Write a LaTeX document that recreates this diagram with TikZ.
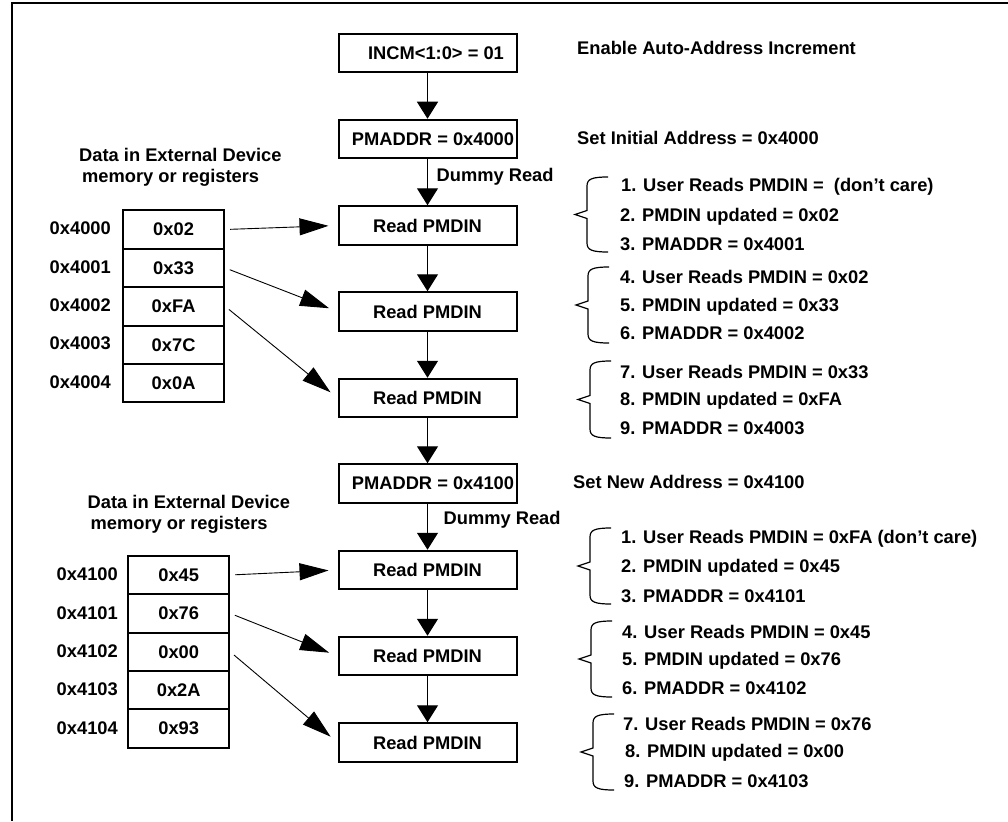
\documentclass[tikz,border=0pt]{standalone}
\usepackage{fontspec}
\setmainfont{Liberation Sans}
\usetikzlibrary{arrows.meta}

\tikzset{
  regbox/.style={draw, line width=2pt, minimum width=178pt, minimum height=38.5pt, inner sep=0pt},
  cell/.style={draw, line width=2pt, minimum width=101pt, minimum height=38.4pt, inner sep=0pt},
  flow/.style={line width=1.3pt, -{Triangle[length=17pt,width=21pt]}},
  fetch/.style={line width=0.9pt, -{Triangle[length=29pt,width=17pt]}, shorten <=5pt, shorten >=9pt},
  note/.style={anchor=west},
}

\begin{document}
\begin{tikzpicture}[x=1pt, y=-1pt, inner sep=0pt,
    every node/.style={font=\fontsize{18.3}{21}\selectfont\bfseries}]
    \useasboundingbox (0,0) rectangle (1008,821);

    % 外框
    \draw[line width=2.5pt] (12,821) -- (12,3) -- (1008,3);

    % 主流程方框
    \node[regbox] (incm) at (427.5,53)   {\hspace*{17pt}INCM<1:0> = 01};
    \node[regbox] (pa)   at (427.5,139)  {\hspace*{11pt}PMADDR = 0x4000};
    \node[regbox] (ra)   at (427.5,225.5) {Read PMDIN};
    \node[regbox] (rb)   at (427.5,311.5) {Read PMDIN};
    \node[regbox] (rc)   at (427.5,398)  {Read PMDIN};
    \node[regbox] (pb)   at (427.5,483.5) {\hspace*{11pt}PMADDR = 0x4100};
    \node[regbox] (rd)   at (427.5,570)  {Read PMDIN};
    \node[regbox] (re)   at (427.5,656)  {Read PMDIN};
    \node[regbox] (rf)   at (427.5,742.5) {Read PMDIN};

    % 流程箭头
    \draw[flow] (incm) -- (pa);
    \draw[flow] (pa) -- node[anchor=west, xshift=8.5pt, yshift=5pt] (dra) {Dummy Read} (ra);
    \draw[flow] (ra) -- (rb);
    \draw[flow] (rb) -- (rc);
    \draw[flow] (rc) -- (pb);
    \draw[flow] (pb) -- node[anchor=west, xshift=15.5pt, yshift=7pt] (drb) {Dummy Read} (rd);
    \draw[flow] (rd) -- (re);
    \draw[flow] (re) -- (rf);

    % 右侧说明
    \node[note] (ena) at (577,48)  {Enable Auto-Address Increment};
    \node[note] (sia) at (577,138) {Set Initial Address = 0x4000};
    \node[note] (sna) at (573,482) {Set New Address = 0x4100};

    % 外部存储器内容
    \node[anchor=west, align=left] (hda) at (79,167.5)
        {Data in External Device\\\hspace*{3pt}memory or registers};
    \node[anchor=west, align=left] (hdb) at (87.5,514.5)
        {Data in External Device\\\hspace*{3pt}memory or registers};
    \foreach \ad/\v [count=\i] in {0x4000/0x02, 0x4001/0x33, 0x4002/0xFA, 0x4003/0x7C, 0x4004/0x0A}{
        \node[cell] (ma\i) at (173.6,{191.1+38.4*\i}) {\v};
        \node[anchor=east] (aa\i) at (111,{190+38.4*\i}) {\ad};
    }
    \foreach \ad/\v [count=\i] in {0x4100/0x45, 0x4101/0x76, 0x4102/0x00, 0x4103/0x2A, 0x4104/0x93}{
        \node[cell] (mb\i) at (178.7,{536.6+38.4*\i}) {\v};
        \node[anchor=east] (ab\i) at (118,{536+38.4*\i}) {\ad};
    }

    % 读取箭头
    \draw[fetch] (ma1.east) -- (ra.west);
    \draw[fetch] (ma2.east) -- (rb.west);
    \draw[fetch] (ma3.east) -- (rc.west);
    \draw[fetch] (mb1.east) -- (rd.west);
    \draw[fetch] (mb2.east) -- (re.west);
    \draw[fetch] (mb3.east) -- (rf.west);

    % 大括号
    \foreach \x/\t/\b in {587/177/252, 588/267/343, 590/361/438, 590/528/604, 591/621/697, 593/714/790}{
        \draw[line width=1.2pt] (\x+21,\t) .. controls (\x+5,\t) and (\x,\t+2) .. (\x,\t+9)
            -- (\x,{(\t+\b)/2-4}) -- (\x-12,{(\t+\b)/2}) -- (\x,{(\t+\b)/2+4})
            -- (\x,\b-9) .. controls (\x,\b-2) and (\x+5,\b) .. (\x+21,\b);
    }

    % 步骤说明
    \node[note] (sa1) at (621,187) {1. User Reads PMDIN = \ (don't care)};
    \node[note] (sa2) at (620,217) {2. PMDIN updated = 0x02};
    \node[note] (sa3) at (620,244) {3. PMADDR = 0x4001};
    \node[note] (sa4) at (620,277) {4. User Reads PMDIN = 0x02};
    \node[note] (sa5) at (620,307) {5. PMDIN updated = 0x33};
    \node[note] (sa6) at (620,333) {6. PMADDR = 0x4002};
    \node[note] (sa7) at (620,372) {7. User Reads PMDIN = 0x33};
    \node[note] (sa8) at (620,401) {8. PMDIN updated = 0xFA};
    \node[note] (sa9) at (620,428) {9. PMADDR = 0x4003};
    \node[note] (sb1) at (621,539) {1. User Reads PMDIN = 0xFA (don't care)};
    \node[note] (sb2) at (621,568) {2. PMDIN updated = 0x45};
    \node[note] (sb3) at (621,596) {3. PMADDR = 0x4101};
    \node[note] (sb4) at (622,632) {4. User Reads PMDIN = 0x45};
    \node[note] (sb5) at (622,661) {5. PMDIN updated = 0x76};
    \node[note] (sb6) at (622,688) {6. PMADDR = 0x4102};
    \node[note] (sb7) at (623,724) {7. User Reads PMDIN = 0x76};
    \node[note] (sb8) at (625,753) {8. PMDIN updated = 0x00};
    \node[note] (sb9) at (624,781) {9. PMADDR = 0x4103};
\end{tikzpicture}
\end{document}
